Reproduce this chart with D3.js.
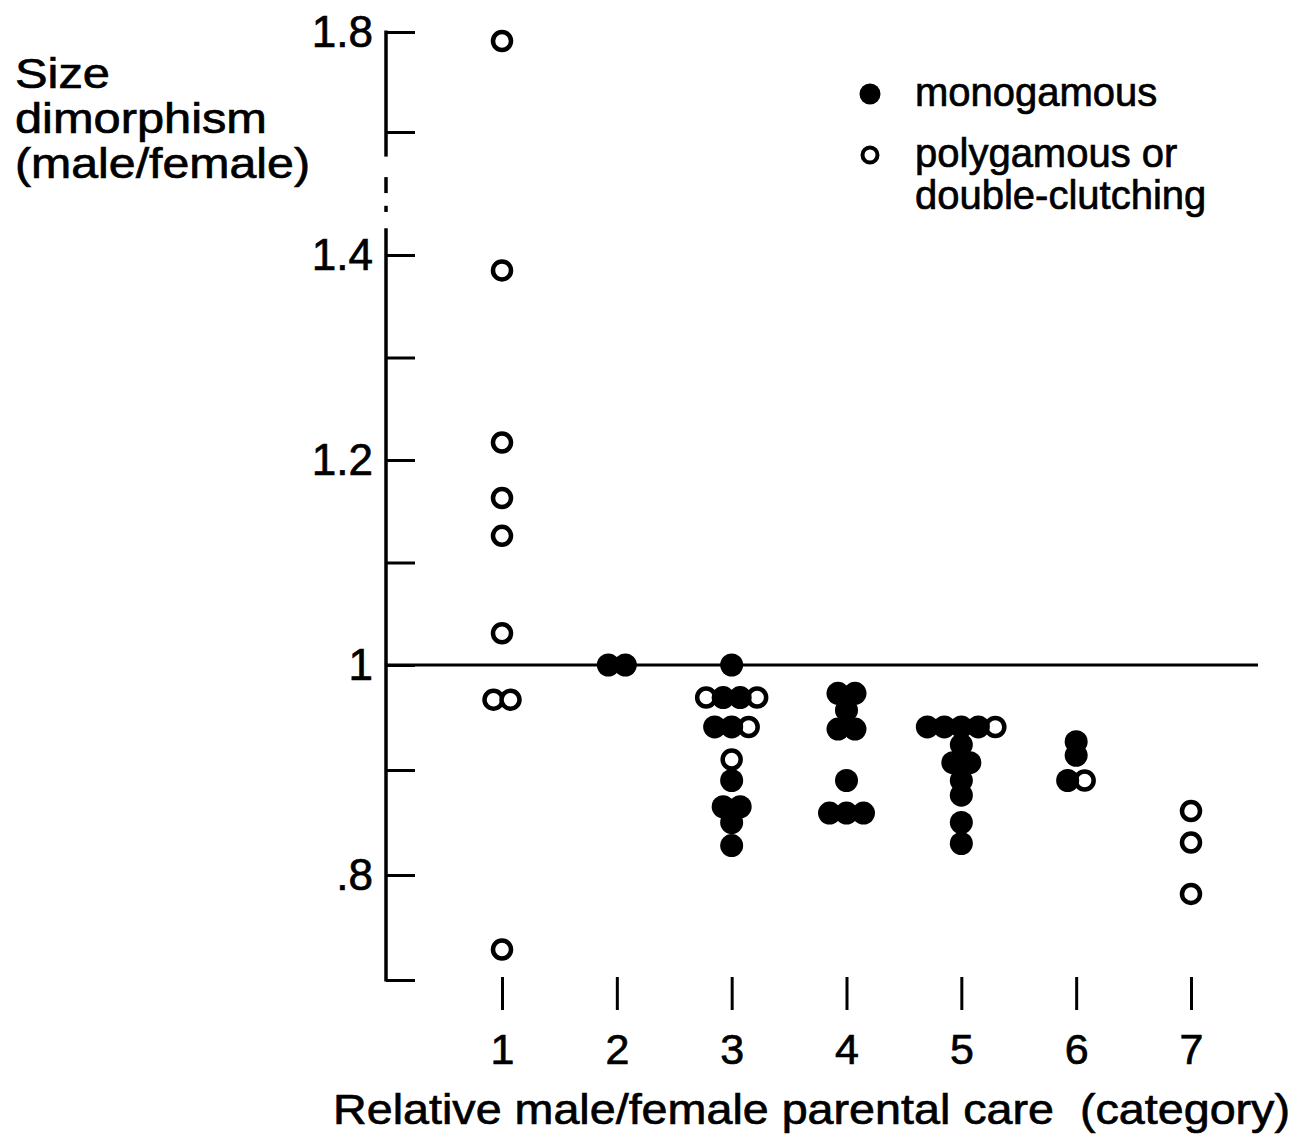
<!DOCTYPE html>
<html>
<head>
<meta charset="utf-8">
<script src="https://cdn.jsdelivr.net/npm/d3@7"></script>
<style>
  body { margin: 0; background: #fff; }
  svg text { font-family: "Liberation Sans", Arial, sans-serif; fill: #000; stroke: #000; stroke-width: 0.7px; }
</style>
</head>
<body>
<svg id="vis" width="1303" height="1136"></svg>
<script>

// categories of relative male/female parental care
var categories = [1, 2, 3, 4, 5, 6, 7];

// y ticks (axis is broken between 1.4 and 1.7)
var yTicks = [0.7, 0.8, 0.9, 1.0, 1.1, 1.2, 1.3, 1.4, 1.7, 1.8];
var yTickLabels = ["", ".8", "", "1", "", "1.2", "", "1.4", "", "1.8"];

var legendLabels = [["monogamous"], ["polygamous or", "double-clutching"]];
var legendTypes = ["m", "p"];

// [category, size dimorphism, mating] ; m = monogamous, p = polygamous or double-clutching
// dots with the same category and value are listed left to right
var dots = [
  [1, 1.791, "p"], [1, 1.385, "p"], [1, 1.217, "p"], [1, 1.163, "p"], [1, 1.126, "p"],
  [1, 1.031, "p"], [1, 0.967, "p"], [1, 0.967, "p"], [1, 0.729, "p"],

  [2, 1.0, "m"], [2, 1.0, "m"],

  [3, 1.0, "m"],
  [3, 0.969, "p"], [3, 0.969, "m"], [3, 0.969, "m"], [3, 0.969, "p"],
  [3, 0.941, "m"], [3, 0.941, "m"], [3, 0.941, "p"],
  [3, 0.910, "p"], [3, 0.890, "m"],
  [3, 0.865, "m"], [3, 0.865, "m"], [3, 0.850, "m"], [3, 0.828, "m"],

  [4, 0.973, "m"], [4, 0.973, "m"], [4, 0.957, "m"],
  [4, 0.939, "m"], [4, 0.939, "m"], [4, 0.890, "m"],
  [4, 0.859, "m"], [4, 0.859, "m"], [4, 0.859, "m"],

  [5, 0.941, "m"], [5, 0.941, "m"], [5, 0.941, "m"], [5, 0.941, "m"], [5, 0.941, "p"],
  [5, 0.924, "m"], [5, 0.907, "m"], [5, 0.907, "m"], [5, 0.890, "m"], [5, 0.876, "m"],
  [5, 0.850, "m"], [5, 0.830, "m"],

  [6, 0.927, "m"], [6, 0.914, "m"], [6, 0.890, "m"], [6, 0.890, "p"],

  [7, 0.861, "p"], [7, 0.831, "p"], [7, 0.782, "p"]
];

var svg = d3.select("#vis");

// scales
var y = d3.scaleLinear().domain([0.7, 1.0, 1.4, 1.7, 1.8]).range([980, 665, 255, 132, 32]);
var x = d3.scaleLinear().domain([1, 7]).range([502, 1191]);
var axisX = 386;
var spread = 17;   // horizontal gap between dots of equal value

// y axis ticks, pointing in
var yAxis = svg.append("g")
  .attr("transform", "translate(" + axisX + ",0)")
  .call(d3.axisLeft(y)
    .tickValues(yTicks)
    .tickSizeInner(-29)
    .tickSizeOuter(0)
    .tickPadding(13)
    .tickFormat(function(d, i) { return yTickLabels[i]; }));
yAxis.select(".domain").remove();
yAxis.attr("font-size", 44).attr("font-family", null);
yAxis.selectAll("line").attr("stroke", "#000").attr("stroke-width", 3);

// broken axis line
var axisPieces = [[0.7, 1.465], [1.64, 1.8], [1.551, 1.590], [1.505, 1.520]];
svg.selectAll("line.axisPiece")
  .data(axisPieces)
  .enter().append("line")
  .attr("class", "axisPiece")
  .attr("x1", axisX).attr("x2", axisX)
  .attr("y1", function(d) { return y(d[0]) + (d[0] == 0.7 ? 1.5 : 0); })
  .attr("y2", function(d) { return y(d[1]) - (d[1] == 1.8 ? 1.5 : 0); })
  .attr("stroke", "#000")
  .attr("stroke-width", 3.5);

// x axis: detached tick marks with labels
var xAxis = svg.append("g")
  .attr("transform", "translate(0,977)")
  .call(d3.axisBottom(x).tickValues(categories).tickSize(33).tickPadding(23).tickFormat(d3.format("d")));
xAxis.select(".domain").remove();
xAxis.attr("font-size", 43).attr("font-family", null);
xAxis.selectAll("line").attr("stroke", "#000").attr("stroke-width", 3);

// reference line at 1
svg.append("line")
  .attr("x1", axisX).attr("x2", 1258)
  .attr("y1", y(1)).attr("y2", y(1))
  .attr("stroke", "#000")
  .attr("stroke-width", 3);

// spread dots of equal value side by side
var groups = d3.group(dots, function(d) { return d[0] + "_" + d[1]; });
function dotX(d) {
  var g = groups.get(d[0] + "_" + d[1]);
  var k = g.indexOf(d);
  return x(d[0]) + (k - (g.length - 1) / 2) * spread;
}

svg.selectAll("circle.poly")
  .data(dots.filter(function(d) { return d[2] == "p"; }))
  .enter().append("circle")
  .attr("class", "poly")
  .attr("cx", dotX)
  .attr("cy", function(d) { return y(d[1]); })
  .attr("r", 9)
  .attr("fill", "#fff")
  .attr("stroke", "#000")
  .attr("stroke-width", 4.5);

svg.selectAll("circle.mono")
  .data(dots.filter(function(d) { return d[2] == "m"; }))
  .enter().append("circle")
  .attr("class", "mono")
  .attr("cx", dotX)
  .attr("cy", function(d) { return y(d[1]); })
  .attr("r", 11.5)
  .attr("fill", "#000");

// legend
var legendY = [94, 155];
var legend = svg.selectAll("g.legend")
  .data(legendTypes)
  .enter().append("g")
  .attr("class", "legend")
  .attr("transform", function(d, i) { return "translate(870," + legendY[i] + ")"; });

legend.append("circle")
  .attr("r", function(d) { return d == "m" ? 10.5 : 7.5; })
  .attr("fill", function(d) { return d == "m" ? "#000" : "#fff"; })
  .attr("stroke", function(d) { return d == "m" ? "none" : "#000"; })
  .attr("stroke-width", 4);

legend.append("text")
  .attr("x", 45)
  .attr("y", 12)
  .attr("font-size", 40)
  .selectAll("tspan")
  .data(function(d, i) { return legendLabels[i]; })
  .enter().append("tspan")
  .attr("x", 45)
  .attr("dy", function(d, i) { return i == 0 ? 0 : 42; })
  .text(function(d) { return d; });

// y axis title
var yTitle = ["Size", "dimorphism", "(male/female)"];
var yTitleWidth = [95, 252, 295];
svg.selectAll("text.ytitle")
  .data(yTitle)
  .enter().append("text")
  .attr("class", "ytitle")
  .attr("x", 15)
  .attr("y", function(d, i) { return 88 + i * 45; })
  .attr("font-size", 43)
  .attr("textLength", function(d, i) { return yTitleWidth[i]; })
  .attr("lengthAdjust", "spacingAndGlyphs")
  .text(function(d) { return d; });

// x axis title
svg.append("text")
  .attr("x", 333)
  .attr("y", 1124)
  .attr("font-size", 43)
  .attr("xml:space", "preserve")
  .style("white-space", "pre")
  .attr("textLength", 957)
  .attr("lengthAdjust", "spacingAndGlyphs")
  .text("Relative male/female parental care  (category)");

</script>
</body>
</html>
